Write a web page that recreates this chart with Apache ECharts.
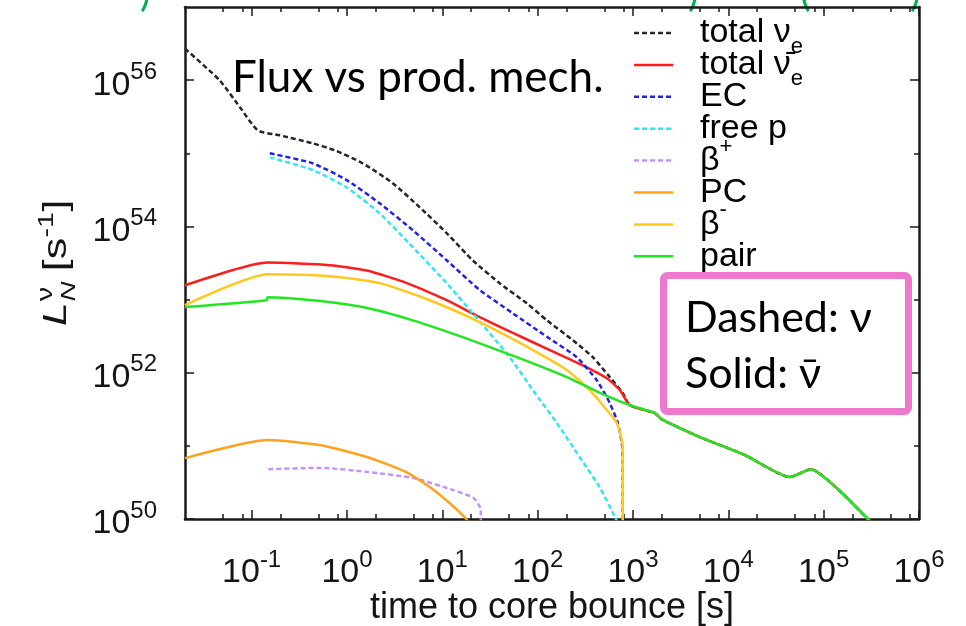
<!DOCTYPE html>
<html>
<head>
<meta charset="utf-8">
<title>Neutrino luminosity by production mechanism</title>
<script src="https://cdn.jsdelivr.net/npm/echarts@6.0.0/dist/echarts.min.js"></script>
<style>
  html, body { margin: 0; padding: 0; background: #ffffff; }
  #chart { width: 966px; height: 626px; }
</style>
</head>
<body>
<div id="chart"></div>
<script>
// Luminosity L_N^nu [1/s] versus time to core bounce [s]; each entry is [t, L].
const totalNueEarly = [
  [0.02, 2.7e56], [0.046, 1.0e56], [0.075, 4.3e55], [0.116, 2.06e55], [0.197, 1.76e55],
  [0.436, 1.37e55], [0.743, 1.10e55], [1.46, 7.3e54], [3.02, 3.9e54], [5.79, 1.83e54],
  [11.1, 8.1e53], [20.8, 3.45e53], [40, 1.67e53], [76.9, 8.9e52], [125, 5.2e52],
  [233, 2.8e52], [379, 1.63e52], [571, 8.7e51], [781, 5.3e51]
];
const totalNuebarEarly = [
  [0.02, 1.57e53], [0.147, 3.2e53], [0.658, 2.95e53], [1.61, 2.5e53], [4.23, 1.68e53],
  [11.1, 9.8e52], [24.7, 5.75e52], [54.8, 3.5e52], [134, 2.04e52], [297, 1.26e52],
  [531, 8.4e51], [727, 5.8e51]
];
const ecNue = [
  [0.155, 1.0e55], [0.436, 7.3e54], [0.993, 4.3e54], [2.2, 2.07e54], [4.89, 8.9e53],
  [11.1, 3.45e53], [24.7, 1.35e53], [54.8, 6.5e52], [125, 3.1e52], [257, 1.63e52],
  [417, 7.9e51], [571, 3.85e51], [693, 2.05e51], [763, 1.09e51], [780, 7e50], [781, 1e48]
];
const freePNue = [
  [0.155, 8.8e54], [0.436, 5.9e54], [0.993, 3.4e54], [2.2, 1.51e54], [4.89, 5.2e53],
  [11.1, 1.68e53], [20.8, 6.5e52], [50.9, 1.63e52], [88.9, 5.8e51], [159, 2.05e51],
  [276, 7.0e50], [449, 2.7e50], [645, 1.07e50], [720, 8e49]
];
const betaPlusNue = [
  [0.15, 4.8e50], [0.53, 5.0e50], [1.65, 4.4e50], [5.13, 3.6e50], [12.9, 2.49e50],
  [21.3, 1.94e50], [25.3, 1.33e50], [25.5, 1e48]
];
const pcNuebar = [
  [0.02, 6.8e50], [0.147, 1.2e51], [0.53, 1.02e51], [1.65, 7.0e50], [4.13, 4.4e50],
  [8.13, 2.49e50], [17.2, 1.06e50], [19.4, 8.3e49]
];
const betaMinusNuebar = [
  [0.02, 8.4e52], [0.147, 2.22e53], [0.658, 2.09e53], [2.2, 1.68e53], [7.38, 9.8e52],
  [24.7, 4.9e52], [88.9, 2.04e52], [202, 1.09e52], [352, 5.8e51], [531, 3.1e51],
  [676, 2.05e51], [763, 1.2e51], [780, 8e50], [781, 1e48]
];
const pairEarly = [
  [0.02, 7.9e52], [0.144, 9.8e52], [0.147, 1.08e53], [0.436, 9.8e52], [1.46, 7.9e52],
  [4.89, 5.2e52], [16.4, 3.06e52], [60.4, 1.63e52], [202, 8.7e51], [449, 5.3e51]
];
// Late times: pair emission carries both totals
const pairLate = [
  [925, 3.6e51], [1694, 2.8e51], [2005, 2.3e51], [5023, 1.32e51], [14890, 7.5e50],
  [44200, 3.75e50], [73450, 4.8e50], [144200, 2.49e50], [2.91e5, 1.0e50], [3.9e5, 6.9e49]
];

const timeMajorTicks = [0.1, 1, 10, 100, 1000, 1e4, 1e5, 1e6];
const timeMinorTicks = [0.05, 0.08, 0.2, 0.5, 0.8, 2, 5, 8, 20, 50, 80, 200, 500, 800,
  2e3, 5e3, 8e3, 2e4, 5e4, 8e4, 2e5, 5e5, 8e5];
const lumMajorTicks = [1e50, 1e52, 1e54, 1e56];
const lumMinorTicks = [1e51, 1e53, 1e55];

const FONT = '"Liberation Sans", Arial, Helvetica, sans-serif';
const SLIDE_FONT = 'Lato, "Open Sans", sans-serif';
const INK = '#151515';

const seriesDefs = [
  { id: 'totalNue',  label: '{m|total ν}{s|e}',       data: totalNueEarly.concat(pairLate),    color: '#262626', dashed: true },
  { id: 'totalNueb', label: '{m|total ν\u0304}{s|e}', data: totalNuebarEarly.concat(pairLate), color: '#ff1c1c', dashed: false },
  { id: 'ec',        label: '{m|EC}',                 data: ecNue,                             color: '#2323e8', dashed: true },
  { id: 'freep',     label: '{m|free p}',             data: freePNue,                          color: '#33e6f0', dashed: true },
  { id: 'betaplus',  label: '{m|β}{p|+}',             data: betaPlusNue,                       color: '#c592ff', dashed: true },
  { id: 'pc',        label: '{m|PC}',                 data: pcNuebar,                          color: '#ffa21c', dashed: false },
  { id: 'betaminus', label: '{m|β}{p|-}',             data: betaMinusNuebar,                   color: '#ffc81c', dashed: false },
  { id: 'pair',      label: '{m|pair}',               data: pairEarly.concat(pairLate),        color: '#22e622', dashed: false }
];
const DASH = [5, 3];
const LINE_W = 2.5;

function powerLabel(value) {
  const exp = Math.round(Math.log10(value));
  return '{b|10}{e|' + exp + '}';
}
const powerRich = {
  b: { fontFamily: FONT, fontSize: 34, color: INK, lineHeight: 50 },
  e: { fontFamily: FONT, fontSize: 24, color: INK, verticalAlign: 'top' }
};

const frameLine = { show: true, onZero: false, lineStyle: { color: '#1a1a1a', width: 2.5 } };
const tickLine = { color: '#1a1a1a', width: 1.5 };

function timeAxis(gridIndex, position, ticks, len, withLine, withLabels) {
  const ax = {
    type: 'log', logBase: 10, gridIndex: gridIndex, position: position,
    min: 0.02, max: 1e6,
    axisLine: withLine ? frameLine : { show: false },
    axisTick: { show: true, inside: true, length: len, customValues: ticks, lineStyle: tickLine },
    axisLabel: { show: false },
    splitLine: { show: false }, minorTick: { show: false }, minorSplitLine: { show: false },
    silent: true
  };
  if (withLabels) {
    ax.axisLabel = { show: true, customValues: ticks, margin: 29, formatter: powerLabel, rich: powerRich };
    ax.name = 'time to core bounce [s]';
    ax.nameLocation = 'middle';
    ax.nameGap = 71;
    ax.nameMoveOverlap = false;
    ax.nameTextStyle = { fontFamily: FONT, fontSize: 36, color: INK };
  }
  return ax;
}
function lumAxis(gridIndex, position, ticks, len, withLine, withLabels) {
  const ax = {
    type: 'log', logBase: 10, gridIndex: gridIndex, position: position,
    min: 1e50, max: 1e57,
    axisLine: withLine ? frameLine : { show: false },
    axisTick: { show: true, inside: true, length: len, customValues: ticks, lineStyle: tickLine },
    axisLabel: { show: false },
    splitLine: { show: false }, minorTick: { show: false }, minorSplitLine: { show: false },
    silent: true
  };
  if (withLabels) {
    ax.axisLabel = { show: true, customValues: ticks, margin: 28, padding: [10, 0, 0, 0],
      formatter: powerLabel, rich: powerRich };
  }
  return ax;
}

// Fixed plot rectangle; labels may sit close to the canvas edge
const plotRect = { left: 185, top: 7, width: 734, height: 512, containLabel: false, outerBoundsMode: 'none' };

// Key: sample line plus label per series, top right inside the frame
const legendRich = {
  m: { fontFamily: FONT, fontSize: 34, color: INK, lineHeight: 50 },
  s: { fontFamily: FONT, fontSize: 22, color: INK, verticalAlign: 'bottom' },
  p: { fontFamily: FONT, fontSize: 22, color: INK, verticalAlign: 'top' }
};
const keyElements = [];
seriesDefs.forEach((d, i) => {
  const y = 33 + 31.9 * i;
  keyElements.push({ type: 'line', silent: true, z: 40,
    shape: { x1: 634, y1: y, x2: 673, y2: y },
    style: { stroke: d.color, lineWidth: LINE_W, lineDash: d.dashed ? DASH : null } });
  keyElements.push({ type: 'text', silent: true, z: 40, x: 700, y: y,
    style: { text: d.label, rich: legendRich, verticalAlign: 'middle', align: 'left' } });
});

// Rotated y-axis title: L_N^nu [s^-1]
const yTitle = {
  type: 'group', x: 68, y: 326, rotation: Math.PI / 2, scaleX: 1.3, silent: true,
  children: [
    { type: 'text', x: 0,  y: -11.4, style: { text: 'L',   font: 'italic 33px ' + FONT, fill: INK, verticalAlign: 'middle' } },
    { type: 'text', x: 19, y: 0.7,   style: { text: 'N',   font: 'italic 21px ' + FONT, fill: INK, verticalAlign: 'middle' } },
    { type: 'text', x: 19, y: -22.3, style: { text: 'ν',   font: '22px ' + FONT, fill: INK, verticalAlign: 'middle' } },
    { type: 'text', x: 33, y: -11.4, style: { text: ' [s', font: '33px ' + FONT, fill: INK, verticalAlign: 'middle' } },
    { type: 'text', x: 68, y: -21,   style: { text: '-1',  font: '22px ' + FONT, fill: INK, verticalAlign: 'middle' } },
    { type: 'text', x: 88, y: -11.4, style: { text: ']',   font: '33px ' + FONT, fill: INK, verticalAlign: 'middle' } }
  ]
};

const green = '#00b050';
const option = {
  animation: false,
  backgroundColor: '#ffffff',
  grid: [Object.assign({}, plotRect), Object.assign({}, plotRect)],
  xAxis: [
    timeAxis(0, 'bottom', timeMajorTicks, 9, true, true),
    timeAxis(0, 'top', timeMajorTicks, 9, true, false),
    timeAxis(1, 'bottom', timeMinorTicks, 5, false, false),
    timeAxis(1, 'top', timeMinorTicks, 5, false, false)
  ],
  yAxis: [
    lumAxis(0, 'left', lumMajorTicks, 9, true, true),
    lumAxis(0, 'right', lumMajorTicks, 9, true, false),
    lumAxis(1, 'left', lumMinorTicks, 5, false, false),
    lumAxis(1, 'right', lumMinorTicks, 5, false, false)
  ],
  series: seriesDefs.map(d => ({
    id: d.id, name: d.id, type: 'line', xAxisIndex: 0, yAxisIndex: 0,
    data: d.data, symbol: 'none', showSymbol: false, smooth: 0.2, clip: true,
    lineStyle: { color: d.color, width: LINE_W, type: d.dashed ? DASH : 'solid' },
    itemStyle: { color: d.color },
    emphasis: { disabled: true }, silent: true
  })),
  graphic: [
    yTitle,
    ...keyElements,
    { type: 'text', x: 232, y: 78, z: 50, silent: true,
      style: { text: 'Flux vs prod. mech.', font: '44px ' + SLIDE_FONT, fill: '#000', verticalAlign: 'middle' } },
    { type: 'rect', z: 60, silent: true,
      shape: { x: 663.5, y: 275.5, width: 245, height: 136, r: 4 },
      style: { fill: '#ffffff', stroke: '#ef78cf', lineWidth: 7 } },
    { type: 'text', x: 685, y: 318, z: 61, silent: true,
      style: { text: 'Dashed: ν', font: '43px ' + SLIDE_FONT, fill: '#000', verticalAlign: 'middle' } },
    { type: 'text', x: 685, y: 374, z: 61, silent: true,
      style: { text: 'Solid: ν\u0304', font: '43px ' + SLIDE_FONT, fill: '#000', verticalAlign: 'middle' } },
    // bottom edges of the heading line above the chart
    { type: 'text', x: 140, y: 13, silent: true, style: { text: ')', font: '40px ' + SLIDE_FONT, fill: green, verticalAlign: 'bottom' } },
    { type: 'text', x: 688, y: 13, silent: true, style: { text: ')', font: '40px ' + SLIDE_FONT, fill: green, verticalAlign: 'bottom' } },
    { type: 'text', x: 800, y: 13, silent: true, style: { text: '(', font: '40px ' + SLIDE_FONT, fill: green, verticalAlign: 'bottom' } },
    { type: 'text', x: 910, y: 13, silent: true, style: { text: ')', font: '40px ' + SLIDE_FONT, fill: green, verticalAlign: 'bottom' } }
  ]
};

const chart = echarts.init(document.getElementById('chart'), null, { renderer: 'canvas' });
chart.setOption(option);
</script>
</body>
</html>
